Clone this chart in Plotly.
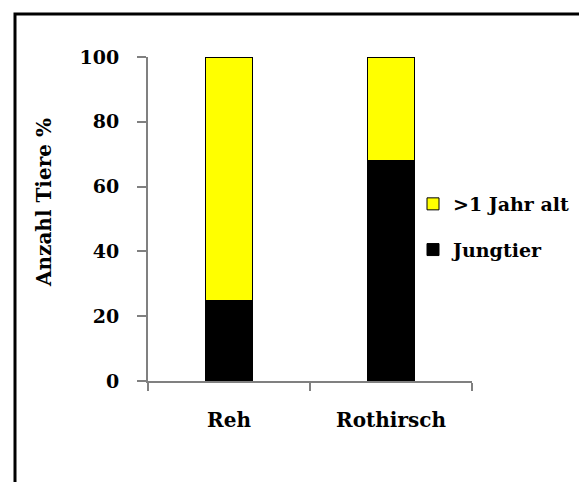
import plotly.graph_objects as go

categories = ["Reh", "Rothirsch"]
jungtier = [25, 68]
adult = [75, 32]
series_names = ["Jungtier", ">1 Jahr alt"]
y_ticks = [0, 20, 40, 60, 80, 100]
y_title = "Anzahl Tiere %"

FONT = "DejaVu Serif"
OFF = 8  # page body margin
W, H = 587 - OFF, 482 - OFF
# plot area in page coordinates: x 148..472, y 57..381
ml = 148 - OFF
mt = 57 - OFF
mr = W - (472 - OFF)
mb = H - (381 - OFF)
pw = W - ml - mr
ph = H - mt - mb


def px(xp):  # page x -> paper
    return (xp - OFF - ml) / pw


def py(yp):  # page y -> paper
    return (H - mb - (yp - OFF)) / ph


fig = go.Figure()
fig.add_trace(go.Bar(x=categories, y=jungtier, name=series_names[0],
                     marker=dict(color="#000000", line=dict(color="#000000", width=1)),
                     width=0.296, legendrank=2, legendgroup="g2"))
fig.add_trace(go.Bar(x=categories, y=adult, name=series_names[1],
                     marker=dict(color="#FFFF00", line=dict(color="#000000", width=1)),
                     width=0.296, legendrank=1, legendgroup="g1"))

fig.update_layout(
    width=W, height=H,
    margin=dict(l=ml, r=mr, t=mt, b=mb, pad=0, autoexpand=False),
    barmode="stack",
    paper_bgcolor="white", plot_bgcolor="white",
    font=dict(family=FONT, size=19, color="black", weight="bold"),
    legend=dict(x=px(413), y=py(185), xanchor="left", yanchor="top",
                traceorder="grouped", tracegroupgap=18, itemwidth=30,
                font=dict(family=FONT, size=19, color="black", weight="bold"),
                bgcolor="rgba(0,0,0,0)"),
    xaxis=dict(range=[-0.5, 1.5], showline=True, linecolor="#808080", linewidth=2,
               ticks="outside", tickson="boundaries", ticklen=8, tickwidth=2, tickcolor="#808080",
               showgrid=False, zeroline=False, ticklabelstandoff=20,
               tickfont=dict(family=FONT, size=20, color="black", weight="bold")),
    yaxis=dict(range=[0, 100], tickvals=y_ticks, showline=True, linecolor="#808080", linewidth=2,
               ticks="outside", ticklen=9, tickwidth=2, tickcolor="#808080",
               showgrid=False, zeroline=False, ticklabelstandoff=14,
               tickfont=dict(family=FONT, size=19, color="black", weight="bold")),
    shapes=[dict(type="rect", xref="paper", yref="paper",
                 x0=px(15), x1=px(620), y0=py(520), y1=py(14),
                 line=dict(color="black", width=3), fillcolor="rgba(0,0,0,0)", layer="below")],
    annotations=[dict(text=y_title, xref="paper", yref="paper",
                      x=px(44), y=py(203), xanchor="center", yanchor="middle",
                      textangle=-90, showarrow=False,
                      font=dict(family=FONT, size=20, color="black", weight="bold"))],
)

fig.write_html("out.html")
